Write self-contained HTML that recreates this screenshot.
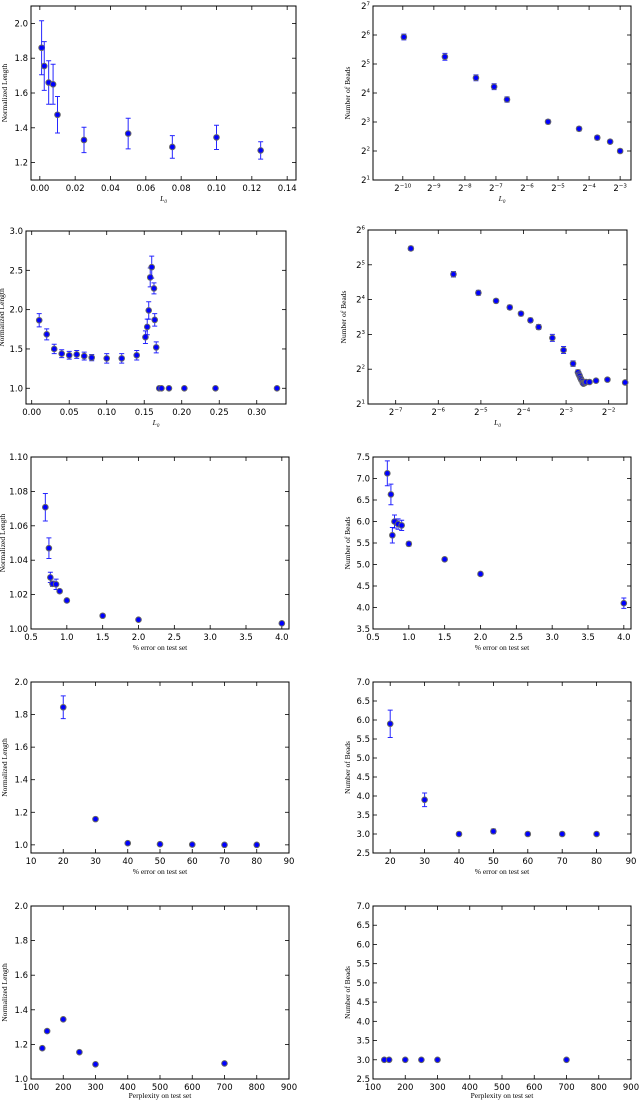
<!DOCTYPE html>
<html><head><meta charset="utf-8">
<style>
html,body{margin:0;padding:0;background:#fff;}
svg{display:block;}
.tk{font-family:"DejaVu Sans","Liberation Sans",sans-serif;font-size:8.5px;fill:#000;}
.al{font-family:"Liberation Serif","DejaVu Serif",serif;font-size:7.5px;fill:#000;}
</style></head>
<body>
<svg id="fig" width="640" height="1100" viewBox="0 0 640 1100"></svg>
<script>
// ---- data ----
const l0Small = [0.001,0.0025,0.005,0.0075,0.01,0.025,0.05,0.075,0.1,0.125];
const lenSmall = [1.86,1.755,1.66,1.65,1.475,1.33,1.367,1.29,1.345,1.27];
const lenSmallErr = [0.155,0.14,0.125,0.115,0.105,0.073,0.088,0.065,0.07,0.05];
const beadsSmall = [61,38,23,18.6,13.7,8.05,6.8,5.5,5.0,4.0];
const beadsSmallErr = [0.1,0.12,0.1,0.1,0.09,0.07,0.07,0.07,0.06,0.06];

const l0Big = [0.01,0.02,0.03,0.04,0.05,0.06,0.07,0.08,0.10,0.12,0.14,0.1516,0.154,0.156,0.158,0.160,0.163,0.164,0.166,0.170,0.173,0.183,0.2035,0.245,0.327];
const lenBig = [1.865,1.686,1.50,1.44,1.42,1.43,1.41,1.39,1.38,1.38,1.42,1.65,1.78,1.99,2.41,2.54,2.27,1.87,1.52,1.0,1.0,1.0,1.0,1.0,1.0];
const lenBigErr = [0.085,0.07,0.06,0.05,0.05,0.05,0.05,0.04,0.06,0.06,0.06,0.08,0.1,0.11,0.12,0.14,0.07,0.08,0.07,0.005,0.005,0.005,0.005,0.005,0.005];
const beadsBig = [44.3,26.5,18.3,15.6,13.7,12.1,10.6,9.25,7.46,5.86,4.47,3.76,3.6,3.5,3.35,3.25,3.15,3.05,3.0,3.05,3.1,3.1,3.18,3.25,3.07];
const beadsBigErr = [0.06,0.08,0.07,0.05,0.06,0.06,0.06,0.07,0.1,0.1,0.08,0.07,0.07,0.06,0.06,0.06,0.05,0.05,0.04,0.04,0.04,0.04,0.04,0.04,0.04];

const errPct = [0.7,0.75,0.77,0.8,0.85,0.9,1.0,1.5,2.0,4.0];
const lenPct = [1.0708,1.047,1.030,1.0263,1.026,1.022,1.0166,1.0077,1.0054,1.0033];
const lenPctErr = [0.008,0.006,0.003,0.0015,0.003,0.001,0.0006,0.0004,0.0004,0.0004];
const beadsPct = [7.12,6.63,5.68,6.0,5.94,5.91,5.48,5.12,4.78,4.10];
const beadsPctErr = [0.29,0.24,0.18,0.15,0.12,0.12,0.05,0.04,0.04,0.12];

const errBig = [20,30,40,50,60,70,80];
const lenErrBig = [1.845,1.158,1.01,1.004,1.002,1.0,1.0];
const lenErrBigErr = [0.07,0.006,0.004,0.003,0.002,0.002,0.002];
const beadsErrBig = [5.9,3.9,3.0,3.07,3.0,3.0,3.0];
const beadsErrBigErr = [0.36,0.18,0.01,0.06,0.01,0.01,0.01];

const perplexity = [135,150,200,250,300,700];
const lenPerp = [1.178,1.277,1.345,1.155,1.085,1.09];
const beadsPerp = [3.0,3.0,3.0,3.0,3.0,3.0];

const ticksA = [0,0.02,0.04,0.06,0.08,0.10,0.12,0.14];
const ticksALab = ["0.00","0.02","0.04","0.06","0.08","0.10","0.12","0.14"];
const ticksB = [0,0.05,0.10,0.15,0.20,0.25,0.30];
const ticksBLab = ["0.00","0.05","0.10","0.15","0.20","0.25","0.30"];
const ticksPct = [0.5,1,1.5,2,2.5,3,3.5,4];
const ticksPctLab = ["0.5","1.0","1.5","2.0","2.5","3.0","3.5","4.0"];
const ticksDec = [10,20,30,40,50,60,70,80,90];
const ticksPerp = [100,200,300,400,500,600,700,800,900];

const NS="http://www.w3.org/2000/svg";
const fig=document.getElementById('fig');
function mk(tag,attrs,parent){const e=document.createElementNS(NS,tag);for(const k in attrs)e.setAttribute(k,attrs[k]);(parent||fig).appendChild(e);return e;}

function plot(cfg){
  const g=mk('g',{});
  
  
  const [bx0,bx1,by0,by1]=cfg.box;
  const tx=v=>cfg.xlog?Math.log2(v):v;
  const ty=v=>cfg.ylog?Math.log2(v):v;
  const sx=v=>bx0+(tx(v)-cfg.xlim[0])/(cfg.xlim[1]-cfg.xlim[0])*(bx1-bx0);
  const sy=v=>by1-(ty(v)-cfg.ylim[0])/(cfg.ylim[1]-cfg.ylim[0])*(by1-by0);
  const sxr=t=>bx0+(t-cfg.xlim[0])/(cfg.xlim[1]-cfg.xlim[0])*(bx1-bx0);
  const syr=t=>by1-(t-cfg.ylim[0])/(cfg.ylim[1]-cfg.ylim[0])*(by1-by0);
  const frame=mk('rect',{x:bx0,y:by0,width:bx1-bx0,height:by1-by0,fill:'none',stroke:'#000','stroke-width':1},g);
  
  
  cfg.xticks.forEach((t,i)=>{
    const x=sxr(t);
    mk('line',{x1:x,x2:x,y1:by1,y2:by1-4,stroke:'#000','stroke-width':0.8},g);
    mk('line',{x1:x,x2:x,y1:by0,y2:by0+4,stroke:'#000','stroke-width':0.8},g);
    const tt=mk('text',{x:x,y:by1+11,'text-anchor':'middle',class:'tk'},g);
    
    
    if(cfg.xlog){tt.textContent='2';const s=mk('tspan',{dy:-3.5,'font-size':'5.5px'},tt);s.textContent=String(t).replace('-','\u2212');}
    else tt.textContent=cfg.xlab[i];
  });
  cfg.yticks.forEach((t,i)=>{
    const y=syr(t);
    mk('line',{x1:bx0,x2:bx0+4,y1:y,y2:y,stroke:'#000','stroke-width':0.8},g);
    mk('line',{x1:bx1,x2:bx1-4,y1:y,y2:y,stroke:'#000','stroke-width':0.8},g);
    const tt=mk('text',{x:bx0-3,y:y+3,'text-anchor':'end',class:'tk'},g);
    
    
    if(cfg.ylog){tt.textContent='2';const s=mk('tspan',{dy:-3.5,'font-size':'5.5px'},tt);s.textContent=String(t);}
    else tt.textContent=cfg.ylab[i];
  });
  const xl=mk('text',{x:(bx0+bx1)/2,y:Math.min(by1+21,1098),'text-anchor':'middle',class:'al'},g);
  
  
  if(cfg.xtitle==='L0'){xl.setAttribute('font-style','italic');xl.textContent='L';const s=mk('tspan',{dy:2,'font-size':'5px'},xl);s.textContent='0';}
  else xl.textContent=cfg.xtitle;
  const yx=cfg.ytitleX, yy=(by0+by1)/2;
  const yl=mk('text',{x:yx,y:yy,'text-anchor':'middle',class:'al',transform:'rotate(-90 '+yx+' '+yy+')'},g);
  
  
  yl.textContent=cfg.ytitle;
  const xs=cfg.x, ys=cfg.y, es=cfg.e;
  for(let i=0;i<xs.length;i++){
    const px=sx(xs[i]);
    if(es){
      let ylo,yhi;
      if(cfg.ylog){ylo=syr(ty(ys[i])-es[i]);yhi=syr(ty(ys[i])+es[i]);}
      else{ylo=sy(ys[i]-es[i]);yhi=sy(ys[i]+es[i]);}
      const eb=mk('path',{d:'M'+px+' '+ylo+'V'+yhi+'M'+(px-2.5)+' '+ylo+'H'+(px+2.5)+'M'+(px-2.5)+' '+yhi+'H'+(px+2.5),stroke:'#0000ff','stroke-width':1,'stroke-opacity':0.85,fill:'none'},g);
      
      
    }
    const c=mk('circle',{cx:px,cy:sy(ys[i]),r:2.8,fill:'#0000ff',stroke:'#666','stroke-width':1},g);
    
    
  }
}

const yT1=[1.2,1.4,1.6,1.8,2.0], yT1L=["1.2","1.4","1.6","1.8","2.0"];
plot({name:'length-vs-l0-small',box:[31,296,6,180],xlim:[-0.005,0.145],ylim:[1.1,2.1],xticks:ticksA,xlab:ticksALab,yticks:yT1,ylab:yT1L,xtitle:'L0',ytitle:'Normalized Length',ytitleX:7,x:l0Small,y:lenSmall,e:lenSmallErr});
plot({name:'beads-vs-l0-small',box:[373,631,6,180],xlog:true,ylog:true,xlim:[-10.96,-2.65],ylim:[1,7],xticks:[-10,-9,-8,-7,-6,-5,-4,-3],yticks:[1,2,3,4,5,6,7],xtitle:'L0',ytitle:'Number of Beads',ytitleX:350,x:l0Small,y:beadsSmall,e:beadsSmallErr});
plot({name:'length-vs-l0-large',box:[26,286,231,404],xlim:[-0.0076,0.339],ylim:[0.8,3.0],xticks:ticksB,xlab:ticksBLab,yticks:[1,1.5,2,2.5,3],ylab:["1.0","1.5","2.0","2.5","3.0"],xtitle:'L0',ytitle:'Normalized Length',ytitleX:4,x:l0Big,y:lenBig,e:lenBigErr});
plot({name:'beads-vs-l0-large',box:[368,627,230,404],xlog:true,ylog:true,xlim:[-7.65,-1.57],ylim:[1,6],xticks:[-7,-6,-5,-4,-3,-2],yticks:[1,2,3,4,5,6],xtitle:'L0',ytitle:'Number of Beads',ytitleX:346,x:l0Big,y:beadsBig,e:beadsBigErr});
plot({name:'length-vs-error-small',box:[31,289,457,629],xlim:[0.5,4.1],ylim:[1.0,1.1],xticks:ticksPct,xlab:ticksPctLab,yticks:[1.0,1.02,1.04,1.06,1.08,1.10],ylab:["1.00","1.02","1.04","1.06","1.08","1.10"],xtitle:'% error on test set',ytitle:'Normalized Length',ytitleX:5,x:errPct,y:lenPct,e:lenPctErr});
plot({name:'beads-vs-error-small',box:[373,631,457,629],xlim:[0.5,4.1],ylim:[3.5,7.5],xticks:ticksPct,xlab:ticksPctLab,yticks:[3.5,4,4.5,5,5.5,6,6.5,7,7.5],ylab:["3.5","4.0","4.5","5.0","5.5","6.0","6.5","7.0","7.5"],xtitle:'% error on test set',ytitle:'Number of Beads',ytitleX:350,x:errPct,y:beadsPct,e:beadsPctErr});
plot({name:'length-vs-error-large',box:[31,289,682,853],xlim:[10,90],ylim:[0.95,2.0],xticks:ticksDec,xlab:ticksDec.map(String),yticks:[1.0,1.2,1.4,1.6,1.8,2.0],ylab:["1.0","1.2","1.4","1.6","1.8","2.0"],xtitle:'% error on test set',ytitle:'Normalized Length',ytitleX:7,x:errBig,y:lenErrBig,e:lenErrBigErr});
plot({name:'beads-vs-error-large',box:[373,631,682,853],xlim:[15,90],ylim:[2.5,7.0],xticks:[20,30,40,50,60,70,80,90],xlab:["20","30","40","50","60","70","80","90"],yticks:[2.5,3,3.5,4,4.5,5,5.5,6,6.5,7],ylab:["2.5","3.0","3.5","4.0","4.5","5.0","5.5","6.0","6.5","7.0"],xtitle:'% error on test set',ytitle:'Number of Beads',ytitleX:350,x:errBig,y:beadsErrBig,e:beadsErrBigErr});
plot({name:'length-vs-perplexity',box:[31,289,906,1079],xlim:[100,900],ylim:[1.0,2.0],xticks:ticksPerp,xlab:ticksPerp.map(String),yticks:[1.0,1.2,1.4,1.6,1.8,2.0],ylab:["1.0","1.2","1.4","1.6","1.8","2.0"],xtitle:'Perplexity on test set',ytitle:'Normalized Length',ytitleX:7,x:perplexity,y:lenPerp,e:null});
plot({name:'beads-vs-perplexity',box:[373,631,906,1079],xlim:[100,900],ylim:[2.5,7.0],xticks:ticksPerp,xlab:ticksPerp.map(String),yticks:[2.5,3,3.5,4,4.5,5,5.5,6,6.5,7],ylab:["2.5","3.0","3.5","4.0","4.5","5.0","5.5","6.0","6.5","7.0"],xtitle:'Perplexity on test set',ytitle:'Number of Beads',ytitleX:350,x:perplexity,y:beadsPerp,e:null});
</script>
</body></html>
